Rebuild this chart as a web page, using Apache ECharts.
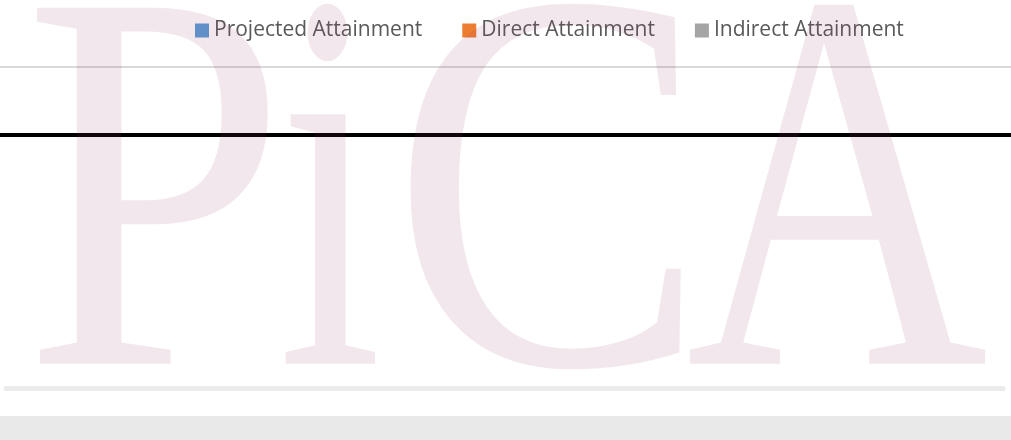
<!DOCTYPE html>
<html>
<head>
<meta charset="utf-8">
<script src="https://cdn.jsdelivr.net/npm/echarts@6/dist/echarts.min.js"></script>
<style>
  html, body { margin: 0; padding: 0; background: #fff; }
  #chart { width: 1011px; height: 440px; }
</style>
</head>
<body>
<div id="chart"></div>
<script>
// chart data (no bars are shown in the picture)
var categories = [''];
var seriesNames = ['Projected Attainment', 'Direct Attainment', 'Indirect Attainment'];
var seriesColors = ['#5b9bd5', '#ed7d31', '#a5a5a5'];
var projected = [null];
var direct = [null];
var indirect = [null];
var targetLevel = 2.37;
var yMax = 3;

// watermark letters
var markLetters = ['P', 'i', 'C', 'A'];
var markCenters = [155, 330, 549, 837];
var markScales = [0.87, 0.69, 0.87, 0.77];

var chart = echarts.init(document.getElementById('chart'));

var watermark = markLetters.map(function (ch, i) {
    return {
        type: 'text',
        x: markCenters[i],
        y: 221,
        scaleX: markScales[i],
        z: 100,
        silent: true,
        style: {
            text: ch,
            font: '544px "Liberation Serif"',
            fill: 'rgba(150, 60, 100, 0.12)',
            align: 'center',
            verticalAlign: 'middle'
        }
    };
});

var values = [projected, direct, indirect];

var option = {
    backgroundColor: '#fff',
    animation: false,
    color: seriesColors,
    legend: {
        left: 190,
        top: 15,
        itemWidth: 14,
        itemHeight: 14,
        itemGap: 40,
        icon: 'rect',
        textStyle: {
            fontFamily: 'Open Sans',
            fontSize: 21,
            color: '#595959'
        },
        data: seriesNames
    },
    grid: [
        { left: 0, right: 0, top: 67, bottom: 52 },
        { left: 6, right: 8, top: 67, bottom: 52 }
    ],
    xAxis: [{
        type: 'category',
        gridIndex: 0,
        data: categories,
        axisLine: { show: false },
        axisTick: { show: false },
        axisLabel: { show: false }
    }, {
        type: 'category',
        gridIndex: 1,
        data: categories,
        axisLine: { show: true, lineStyle: { color: '#ebebeb', width: 5 } },
        axisTick: { show: false },
        axisLabel: { show: false }
    }],
    yAxis: [{
        type: 'value',
        gridIndex: 0,
        min: 0,
        max: yMax,
        interval: yMax,
        axisLabel: { show: false },
        axisLine: { show: false },
        axisTick: { show: false },
        splitLine: { lineStyle: { color: ['transparent', '#d9d9d9'], width: 2 } }
    }, {
        type: 'value',
        gridIndex: 1,
        min: 0,
        max: yMax,
        show: false
    }],
    series: seriesNames.map(function (name, i) {
        var s = {
            name: name,
            type: 'bar',
            data: values[i]
        };
        if (i === 0) {
            s.markLine = {
                silent: true,
                symbol: 'none',
                label: { show: false },
                lineStyle: { color: '#000', width: 4, type: 'solid' },
                data: [{ yAxis: targetLevel }]
            };
        }
        return s;
    }),
    graphic: watermark.concat([{
        type: 'rect',
        shape: { x: 0, y: 416, width: 1011, height: 24 },
        style: { fill: '#e9e9e9' },
        z: 1,
        silent: true
    }])
};

chart.setOption(option);
</script>
</body>
</html>
